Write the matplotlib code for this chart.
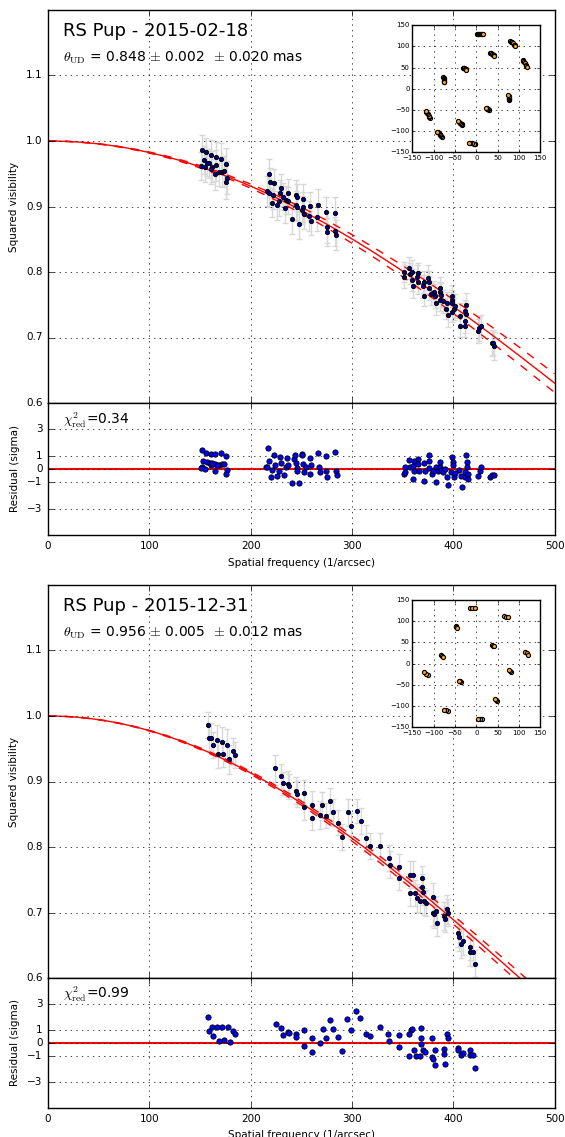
import numpy as np
import matplotlib
matplotlib.use('Agg')
from matplotlib import pyplot as plt
from math import factorial

plt.style.use('classic')
plt.rcParams['figure.facecolor'] = 'white'
plt.rcParams['savefig.facecolor'] = 'white'
plt.rcParams['mathtext.fontset'] = 'cm'
plt.rcParams['font.family'] = ['DejaVu Sans']

# ---------------- epoch 1 : 2015-02-18 ----------------
title1 = 'RS Pup - 2015-02-18'
theta1, stat1, sys1 = 0.848, 0.002, 0.020
chi2_1 = 0.34

freq1 = [152.3, 155.6, 160.5, 165.5, 170.7, 153.9, 157.2, 158.9, 162.2, 166.1,
         169.0, 172.0, 175.7, 150.7, 155.0, 160.5, 164.5, 174.0, 176.3, 175.3,
         217.8, 219.0, 222.7, 229.6, 229.0, 236.5, 215.8, 218.4, 221.7, 220.7,
         226.3, 228.3, 231.6, 234.9, 237.2, 233.6, 240.5, 244.7, 246.0, 244.7,
         245.4, 248.0, 252.0, 251.3, 250.3, 252.6, 257.2, 258.6, 259.2, 266.4,
         265.8, 274.3, 275.0, 275.5, 283.2, 283.6, 284.5,
         351.8, 351.8, 356.4, 357.4, 359.7, 359.3, 360.3, 364.9, 364.3, 365.2,
         370.8, 370.5, 371.1, 375.4, 375.7, 376.0, 378.0, 380.7, 382.0, 386.9,
         387.2, 387.5, 383.0, 387.2, 389.5, 393.4, 392.8, 394.4, 399.3, 399.3,
         398.7, 400.3, 398.4, 402.0, 406.6, 407.2, 412.5, 412.1, 412.5, 411.5,
         412.1, 424.9, 425.6, 427.2, 438.0, 439.3, 440.7]
vis1 = [0.987, 0.983, 0.979, 0.976, 0.973, 0.971, 0.967, 0.966, 0.961, 0.963,
        0.953, 0.953, 0.965, 0.962, 0.960, 0.957, 0.949, 0.954, 0.944, 0.938,
        0.949, 0.937, 0.936, 0.928, 0.921, 0.921, 0.924, 0.921, 0.917, 0.906,
        0.902, 0.909, 0.915, 0.910, 0.909, 0.897, 0.881, 0.918, 0.914, 0.902,
        0.899, 0.874, 0.912, 0.899, 0.895, 0.888, 0.886, 0.901, 0.878, 0.903,
        0.884, 0.892, 0.868, 0.861, 0.890, 0.862, 0.857,
        0.800, 0.793, 0.806, 0.797, 0.800, 0.788, 0.779, 0.798, 0.793, 0.784,
        0.785, 0.778, 0.764, 0.791, 0.784, 0.776, 0.766, 0.770, 0.763, 0.775,
        0.769, 0.765, 0.752, 0.757, 0.755, 0.752, 0.744, 0.734, 0.763, 0.757,
        0.752, 0.743, 0.739, 0.748, 0.733, 0.718, 0.750, 0.741, 0.736, 0.725,
        0.718, 0.710, 0.714, 0.718, 0.691, 0.692, 0.687]
err1 = [0.022, 0.022, 0.023, 0.022, 0.024, 0.022, 0.021, 0.022, 0.023, 0.024,
        0.022, 0.023, 0.025, 0.021, 0.022, 0.022, 0.024, 0.023, 0.025, 0.026,
        0.024, 0.022, 0.021, 0.022, 0.020, 0.021, 0.023, 0.022, 0.021, 0.022,
        0.022, 0.023, 0.021, 0.022, 0.021, 0.022, 0.023, 0.022, 0.021, 0.022,
        0.021, 0.024, 0.022, 0.023, 0.021, 0.022, 0.023, 0.021, 0.022, 0.024,
        0.022, 0.022, 0.023, 0.021, 0.024, 0.022, 0.023,
        0.016, 0.018, 0.017, 0.016, 0.018, 0.017, 0.019, 0.016, 0.017, 0.018,
        0.017, 0.018, 0.016, 0.019, 0.017, 0.018, 0.017, 0.016, 0.018, 0.017,
        0.016, 0.018, 0.017, 0.016, 0.018, 0.017, 0.016, 0.018, 0.017, 0.016,
        0.018, 0.017, 0.016, 0.018, 0.019, 0.017, 0.018, 0.017, 0.016, 0.018,
        0.017, 0.018, 0.019, 0.017, 0.020, 0.019, 0.021]

rfreq1 = [152.0, 153.0, 152.0, 156.0, 156.5, 150.6, 154.5, 160.5, 159.8, 160.8,
          165.0, 164.5, 165.0, 169.0, 170.3, 171.6, 173.9, 175.6, 176.3, 175.3,
          167.0, 162.0,
          217.0, 214.8, 216.4, 218.4, 219.7, 222.9, 223.6, 221.6, 225.9, 228.2,
          229.5, 230.2, 233.1, 234.8, 236.1, 237.4, 240.4, 243.0, 244.0, 244.7,
          245.4, 246.0, 248.0, 251.0, 251.6, 250.3, 252.3, 254.2, 258.2, 258.8,
          259.8, 266.4, 267.7, 268.7, 274.6, 275.3, 274.0, 283.6, 284.3, 284.9,
          351.8, 352.8, 352.5, 356.7, 357.4, 360.3, 361.0, 360.6, 361.7, 365.2,
          365.2, 365.9, 371.3, 371.6, 372.3, 375.9, 375.9, 376.2, 378.7, 380.5,
          383.0, 383.0, 385.1, 387.2, 387.2, 388.3, 390.1, 392.2, 393.6, 395.0,
          397.9, 399.3, 400.0, 400.0, 400.7, 402.1, 406.0, 407.8, 408.2, 411.3,
          412.0, 413.1, 413.5, 413.5, 414.2, 414.9, 424.8, 426.2, 427.7, 436.5,
          438.5, 440.5]
resid1 = [1.42, 0.63, 0.13, 1.19, 0.51, 0.05, 0.00, 1.16, 0.43, 0.30,
          1.16, -0.15, 0.38, 0.30, 1.19, 0.38, 0.38, 0.96, -0.10, -0.41,
          0.28, 0.46,
          1.57, 0.18, 0.18, 0.61, -0.58, 1.09, 0.30, -0.08, -0.51, -0.15,
          0.94, 0.43, -0.46, 0.18, 0.86, 0.28, -1.09, 0.73, 1.09, 0.43,
          0.05, -0.18, -1.09, 1.14, 0.35, 1.04, -0.20, 0.13, 0.81, -0.41,
          0.30, 1.19, 0.13, -0.25, 1.01, -0.61, -0.18, 1.29, -0.15, -0.46,
          -0.38, 0.18, -0.20, 0.69, 0.18, 0.23, -0.15, -0.76, 0.61, 0.79,
          0.38, -0.13, 0.43, -0.89, -0.13, 1.04, 0.58, 0.10, -0.41, -0.15,
          0.18, -0.97, -0.13, 0.51, 0.18, -0.08, -0.20, 0.03, -0.61, -1.22,
          -0.20, 0.94, 0.53, 0.30, -0.64, -0.28, -0.08, -0.53, -1.40, -0.20,
          -0.58, 1.07, 0.53, 0.18, -0.76, -0.38, -0.56, -0.15, 0.13, -0.64,
          -0.48, -0.48]

# uv tracks (one half of the plane; the other half is the mirror point)
u1 = [2, 4, 6, 9, 11, 14, 16, 80, 82, 84, 86, 88, 90, 91,
      33, 34.5, 36, 37.5, 39, 40.5, 42, 109, 110.5, 112, 114, 116, 117.5, 119,
      -30, -29, -28, -26.5, -25, -24, -23, -77, -76.8, -76.5, -76.2, -76, -75.5, -75]
v1 = [129, 129, 129, 128.8, 128.5, 128.5, 128.5, 113, 111, 109, 106.5, 104, 102.5, 101,
      85, 83.5, 82, 81, 80, 78.5, 77, 68, 65.5, 63, 60, 57, 54.5, 52,
      50, 49, 48, 47.5, 47, 46, 45, 27, 25, 23, 21, 19, 17, 15]

# ---------------- epoch 2 : 2015-12-31 ----------------
title2 = 'RS Pup - 2015-12-31'
theta2, stat2, sys2 = 0.956, 0.005, 0.012
chi2_2 = 0.99

freq2 = [157.6, 158.6, 160.9, 162.8, 166.4, 167.8, 171.4, 173.0, 176.6, 178.3,
         182.2, 184.2,
         224.3, 230.3, 231.9, 237.2, 237.8, 244.4, 245.4, 252.3, 252.3, 260.9,
         260.2, 270.7, 268.8, 274.3, 278.0, 281.2, 286.5, 289.8, 296.1, 298.7,
         304.9, 308.6, 314.1, 318.1, 328.0, 336.2, 337.2, 346.7, 346.4, 356.9,
         357.6, 360.2, 368.8, 369.1, 363.8, 362.5, 367.1, 369.7, 370.7, 373.0,
         380.3, 380.0, 380.6, 382.6, 384.5,
         391.0, 392.0, 394.1, 395.1, 405.0, 405.5, 407.8, 409.2, 416.7, 417.0,
         419.1, 421.3]
vis2 = [0.986, 0.967, 0.967, 0.956, 0.964, 0.942, 0.961, 0.942, 0.956, 0.934,
        0.946, 0.941,
        0.920, 0.908, 0.897, 0.896, 0.893, 0.886, 0.881, 0.883, 0.861, 0.864,
        0.845, 0.864, 0.849, 0.848, 0.870, 0.853, 0.837, 0.815, 0.853, 0.832,
        0.855, 0.840, 0.813, 0.802, 0.802, 0.783, 0.773, 0.769, 0.753, 0.730,
        0.758, 0.758, 0.752, 0.739, 0.722, 0.730, 0.718, 0.731, 0.717, 0.715,
        0.724, 0.700, 0.698, 0.703, 0.684,
        0.695, 0.690, 0.705, 0.700, 0.668, 0.662, 0.652, 0.656, 0.648, 0.640,
        0.640, 0.622]
err2 = [0.020, 0.021, 0.022, 0.020, 0.023, 0.021, 0.022, 0.020, 0.024, 0.022,
        0.021, 0.020,
        0.020, 0.019, 0.018, 0.020, 0.019, 0.021, 0.020, 0.019, 0.020, 0.021,
        0.019, 0.020, 0.021, 0.019, 0.020, 0.021, 0.019, 0.020, 0.021, 0.020,
        0.019, 0.020, 0.021, 0.020, 0.019, 0.020, 0.021, 0.020, 0.019, 0.020,
        0.021, 0.020, 0.019, 0.020, 0.021, 0.020, 0.019, 0.020, 0.021, 0.020,
        0.021, 0.020, 0.021, 0.022, 0.020,
        0.021, 0.020, 0.022, 0.021, 0.020, 0.021, 0.022, 0.021, 0.020, 0.022,
        0.021, 0.020]

rfreq2 = [157.8, 159.1, 161.7, 163.3, 167.0, 168.6, 172.2, 173.5, 177.5, 179.4,
          182.7, 184.6,
          224.8, 230.1, 232.4, 237.0, 237.9, 244.8, 245.1, 252.3, 253.0, 260.5,
          260.5, 269.0, 271.0, 274.2, 278.1, 281.4, 286.3, 289.9, 295.1, 298.7,
          304.2, 308.2, 314.1, 317.6, 327.5, 336.0, 337.0, 346.1, 346.1, 356.5,
          355.9, 358.5, 359.8, 361.4, 363.1, 367.0, 368.0, 368.6, 368.6, 370.6,
          372.2, 379.4, 379.4, 380.4, 382.0, 381.7, 391.0, 391.3, 391.6, 394.1,
          395.1, 405.0, 405.0, 407.8, 409.2, 416.7, 417.0, 419.1, 421.3]
resid2 = [1.97, 0.92, 1.21, 0.56, 1.23, 0.15, 1.26, 0.26, 1.21, 0.10,
          0.92, 0.67,
          1.46, 1.13, 0.64, 0.82, 0.74, 0.69, 0.44, -0.23, 0.97, 0.38,
          -0.67, 0.00, 1.05, 0.36, 1.74, 1.05, 0.44, -0.62, 1.87, 0.97,
          2.49, 1.95, 0.69, 0.51, 1.23, 0.69, 0.15, 0.59, -0.33, 0.69,
          -1.03, 1.03, 1.08, -0.54, -0.97, -0.97, 1.13, 0.41, -0.05, -0.54,
          -0.67, 0.41, -1.08, -1.23, -0.56, -1.69, -0.46, -0.82, -1.62, 0.69,
          0.41, -0.36, -0.54, -0.95, -0.74, -0.56, -0.95, -0.95, -1.90]

u2 = [-14, -9, -4, 66, 70, 75, -48, -46.5, -45, 36, 38.5, 41,
      114, 118, 122, -82, -79.5, -77]
v2 = [130, 130, 130, 113, 111, 109, 88, 86.5, 85, 44, 42.5, 41,
      28, 24.5, 21, 20, 17.5, 15]


def ud_v2(freq, theta_mas):
    # uniform disk: V = 2 J1(x)/x, power series
    x = np.pi * theta_mas * 1e-3 * np.asarray(freq, dtype=float)
    v = np.zeros_like(x)
    for k in range(15):
        v += (-1) ** k * (x / 2) ** (2 * k) / (factorial(k) * factorial(k + 1))
    return v ** 2


def panel(fig, top_px, res_h_px, inset_h_px, title, theta, stat, sys, chi2,
          freq, vis, err, rfreq, resid, u, v):
    H = 1137.0
    left, width = 48 / 565.0, 506.5 / 565.0
    main_h = 393.0
    ax = fig.add_axes([left, 1 - (top_px + main_h) / H, width, main_h / H])
    rax = fig.add_axes([left, 1 - (top_px + main_h + res_h_px) / H, width, res_h_px / H])

    fm = np.linspace(0, 500, 501)
    ax.errorbar(freq, vis, yerr=err, fmt='none', ecolor='#d8d8d8',
                elinewidth=1.0, capsize=2.5, capthick=1.0, zorder=1)
    ax.plot(freq, vis, 'o', mfc='#000080', mec='k', ms=3.1, mew=0.6, zorder=3)
    ax.plot(fm, ud_v2(fm, theta), '-', color='r', lw=1.0, zorder=2)
    ax.plot(fm, ud_v2(fm, theta - sys), '--', color='r', lw=1.0, zorder=2)
    ax.plot(fm, ud_v2(fm, theta + sys), '--', color='r', lw=1.0, zorder=2)
    ax.set_xlim(0, 500)
    ax.set_ylim(0.6, 1.2)
    ax.set_yticks([0.6, 0.7, 0.8, 0.9, 1.0, 1.1])
    ax.set_xticks([0, 100, 200, 300, 400, 500])
    ax.set_xticklabels([])
    ax.grid(True)
    ax.tick_params(labelsize=7.5)
    ax.set_ylabel('Squared visibility', fontsize=7.5)
    ax.text(0.03, 0.947, title, transform=ax.transAxes, fontsize=13, va='center')
    ax.text(0.03, 0.878, r'$\theta_\mathrm{UD}$ = %.3f $\pm$ %.3f  $\pm$ %.3f mas' % (theta, stat, sys),
            transform=ax.transAxes, fontsize=10, va='center')

    rax.axhline(0, color='r', lw=1.5, zorder=2)
    rax.plot(rfreq, resid, 'o', mfc='#0000ff', mec='k', ms=3.8, mew=0.6, zorder=3)
    rax.set_xlim(0, 500)
    rax.set_ylim(-5, 5)
    rax.set_yticks([-3, -1, 0, 1, 3])
    rax.set_xticks([0, 100, 200, 300, 400, 500])
    rax.grid(True)
    rax.tick_params(labelsize=7.5)
    rax.set_ylabel('Residual (sigma)', fontsize=7.5)
    rax.set_xlabel('Spatial frequency (1/arcsec)', fontsize=7.5)
    rax.text(0.03, 0.87, r'$\chi^2_\mathrm{red}$=%.2f' % chi2, transform=rax.transAxes,
             fontsize=10, va='center')

    # uv coverage inset
    iax = fig.add_axes([412.3 / 565.0, 1 - (top_px + 15 + inset_h_px) / H,
                        128 / 565.0, inset_h_px / H])
    uu = np.concatenate([u, -np.asarray(u)])
    vv = np.concatenate([v, -np.asarray(v)])
    iax.plot(uu, vv, 'o', mfc='orange', mec='k', ms=3.0, mew=0.8)
    iax.set_xlim(-150, 150)
    iax.set_ylim(-150, 150)
    iax.set_xticks([-150, -100, -50, 0, 50, 100, 150])
    iax.set_yticks([-150, -100, -50, 0, 50, 100, 150])
    iax.grid(True)
    iax.tick_params(labelsize=5, length=2.5, pad=2)
    return ax, rax


fig = plt.figure(figsize=(5.65, 11.37), dpi=100)
panel(fig, 10, 132, 127.5, title1, theta1, stat1, sys1, chi2_1,
      freq1, vis1, err1, rfreq1, resid1, u1, v1)
panel(fig, 585, 130, 127, title2, theta2, stat2, sys2, chi2_2,
      freq2, vis2, err2, rfreq2, resid2, u2, v2)
fig.savefig('out.png', dpi=100)
